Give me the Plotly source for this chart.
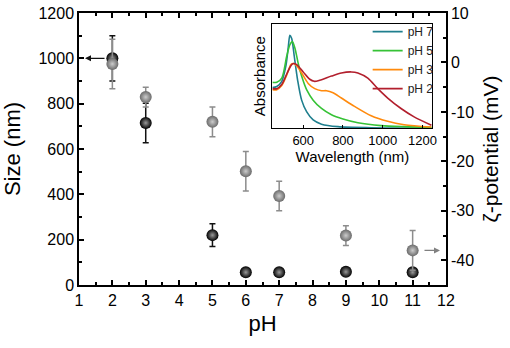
import plotly.graph_objects as go

# ---- main data ----
ph_size = [2, 3, 5, 6, 7, 9, 11]
size_nm = [1000, 715, 220, 56, 56, 58, 56]
size_err = [100, 87, 50, 0, 0, 0, 0]

ph_zeta = [2, 3, 5, 6, 7, 9, 11]
zeta_mv = [-0.3, -7.0, -12.0, -22.0, -27.0, -35.0, -38.0]
zeta_err = [5, 2, 3, 4, 3, 2, 4]

zeta_tickvals = [10, 0, -10, -20, -30, -40]
zeta_ticktext = ["10", "0", "-10", "-20", "-30", "-40"]

# ---- inset spectra ----
wl_ph7 = [445, 467, 492, 512, 525, 533, 542, 555, 572, 592, 617, 650, 692, 775, 942, 1245]
ab_ph7 = [0.39, 0.40, 0.45, 0.59, 0.78, 0.89, 0.86, 0.69, 0.46, 0.27, 0.16, 0.08, 0.04, 0.016, 0.006, 0.003]

wl_ph5 = [445, 467, 492, 517, 533, 545, 558, 575, 592, 617, 650, 692, 742, 800, 875, 992, 1108, 1245]
ab_ph5 = [0.44, 0.44, 0.48, 0.69, 0.80, 0.83, 0.77, 0.62, 0.50, 0.37, 0.27, 0.19, 0.13, 0.09, 0.054, 0.026, 0.016, 0.01]

wl_ph3 = [445, 467, 492, 517, 538, 550, 567, 592, 625, 658, 692, 717, 750, 792, 858, 942, 1025, 1108, 1245]
ab_ph3 = [0.37, 0.37, 0.41, 0.51, 0.61, 0.62, 0.60, 0.53, 0.43, 0.38, 0.36, 0.36, 0.34, 0.29, 0.21, 0.12, 0.067, 0.035, 0.013]

wl_ph2 = [445, 467, 492, 517, 538, 550, 567, 600, 633, 655, 683, 742, 792, 842, 875, 925, 975, 1025, 1092, 1158, 1245]
ab_ph2 = [0.38, 0.38, 0.42, 0.52, 0.60, 0.62, 0.61, 0.54, 0.47, 0.45, 0.46, 0.50, 0.53, 0.54, 0.53, 0.48, 0.38, 0.29, 0.19, 0.11, 0.03]

spectra = [
    ("pH 7", wl_ph7, ab_ph7, "#1f7f8e"),
    ("pH 5", wl_ph5, ab_ph5, "#36c236"),
    ("pH 3", wl_ph3, ab_ph3, "#ff8a0d"),
    ("pH 2", wl_ph2, ab_ph2, "#b21f2d"),
]

FONT = "Arial, Liberation Sans, sans-serif"

fig = go.Figure()

fig.add_trace(go.Scatter(
    x=ph_size, y=size_nm, mode="markers", showlegend=False,
    error_y=dict(type="data", array=size_err, color="#111111", thickness=1.5, width=3),
    marker=dict(size=12, color="#000000", gradient=dict(type="radial", color="#9a9a9a")),
    xaxis="x", yaxis="y",
))

fig.add_trace(go.Scatter(
    x=ph_zeta, y=zeta_mv, mode="markers", showlegend=False,
    error_y=dict(type="data", array=zeta_err, color="#8c8c8c", thickness=1.5, width=3),
    marker=dict(size=12, color="#6a6a6a", gradient=dict(type="radial", color="#cccccc")),
    xaxis="x", yaxis="y2",
))

for name, wl, ab, col in spectra:
    fig.add_trace(go.Scatter(
        x=wl, y=ab, mode="lines", name=name,
        line=dict(color=col, width=1.6, shape="spline", smoothing=0.8),
        xaxis="x3", yaxis="y3",
    ))

tickfont = dict(family=FONT, size=16, color="black")
axcommon = dict(showline=True, linecolor="black", linewidth=1.5, ticks="inside",
                ticklen=5, tickwidth=1.5, tickcolor="black", showgrid=False,
                zeroline=False, tickfont=tickfont, automargin=False)

fig.update_layout(
    width=510, height=348,
    margin=dict(l=79, r=64, t=13, b=63),
    paper_bgcolor="white", plot_bgcolor="white",
    font=dict(family=FONT, color="black"),
    xaxis=dict(range=[1, 12], dtick=1, mirror="ticks",
               minor=dict(dtick=0.5, ticks="inside", ticklen=3, tickwidth=1.5, tickcolor="black"),
               title=dict(text="pH", font=dict(size=22), standoff=8), **axcommon),
    yaxis=dict(range=[0, 1200], dtick=200,
               minor=dict(dtick=100, ticks="inside", ticklen=3, tickwidth=1.5, tickcolor="black"),
               title=dict(text="Size (nm)", font=dict(size=22), standoff=15), **axcommon),
    yaxis2=dict(range=[-45, 10], tickmode="array", tickvals=zeta_tickvals, ticktext=zeta_ticktext,
                overlaying="y", side="right", anchor="x",
                minor=dict(dtick=5, ticks="inside", ticklen=3, tickwidth=1.5, tickcolor="black"),
                title=dict(text="ζ-potential (mV)", font=dict(size=21), standoff=10), **axcommon),
    xaxis3=dict(domain=[0.527, 0.963], anchor="y3", range=[445, 1250], dtick=200,
                showline=True, mirror=True, linecolor="black", linewidth=1, automargin=False,
                ticks="inside", ticklen=3, tickcolor="black", showgrid=False, zeroline=False,
                tickfont=dict(family=FONT, size=13, color="black"),
                title=dict(text="Wavelength (nm)", font=dict(size=15), standoff=2)),
    yaxis3=dict(domain=[0.576, 0.96], anchor="x3", range=[0, 1.0], automargin=False,
                showline=True, mirror=True, linecolor="black", linewidth=1,
                ticks="", showticklabels=False, showgrid=False, zeroline=False,
                title=dict(text="Absorbance", font=dict(size=15), standoff=2)),
    legend=dict(x=0.98, y=0.985, xanchor="right", yanchor="top",
                bgcolor="rgba(0,0,0,0)", font=dict(family=FONT, size=12, color="#222"),
                tracegroupgap=0, itemwidth=30),
)

fig.add_annotation(x=1.18, y=1000, xref="x", yref="y", text="", showarrow=True,
                   ax=21, ay=0, arrowhead=2, arrowsize=1, arrowwidth=1.2, arrowcolor="#111")
fig.add_annotation(x=11.82, y=-38, xref="x", yref="y2", text="", showarrow=True,
                   ax=-17, ay=0, arrowhead=2, arrowsize=1, arrowwidth=1.2, arrowcolor="#808080")

fig.write_html("out.html", config={"displayModeBar": False},
               post_script="document.body.style.margin='0px';")
